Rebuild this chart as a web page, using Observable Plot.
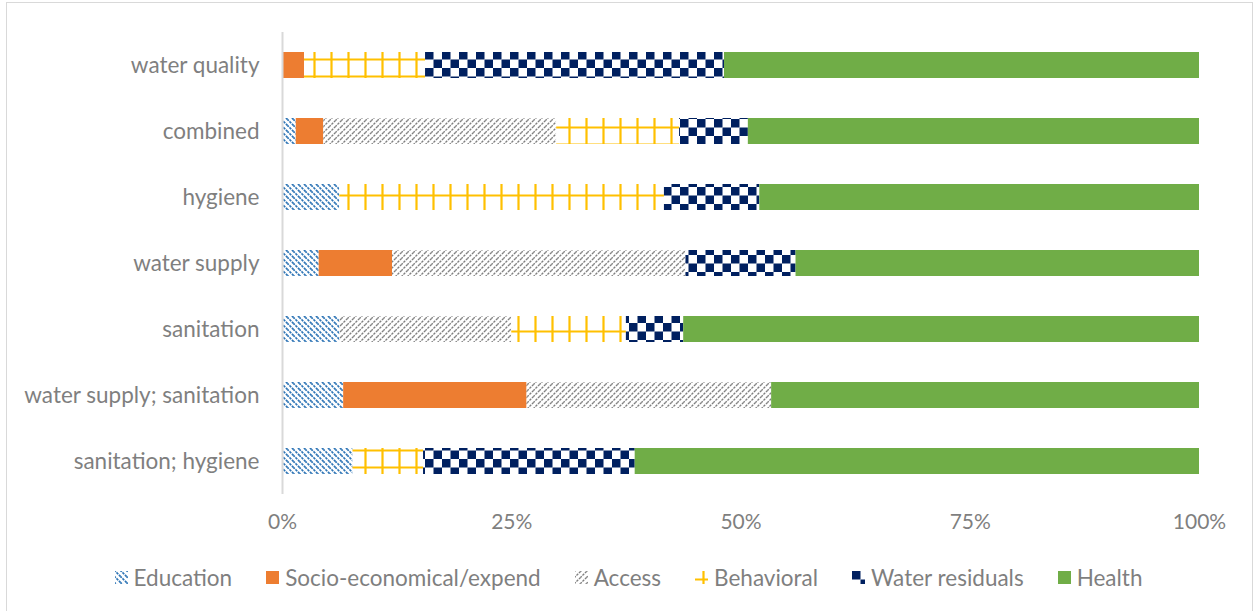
<!DOCTYPE html>
<html><head><meta charset="utf-8">
<script src="https://cdn.jsdelivr.net/npm/d3@7"></script>
<script src="https://cdn.jsdelivr.net/npm/@observablehq/plot@0.6"></script>
<style>
body{margin:0;background:#fff;font-family:Lato,sans-serif;width:1257px;height:611px;overflow:hidden;position:relative;}
#frame{position:absolute;left:6px;top:2px;width:1245px;height:640px;border:1.5px solid #d9d9d9;}
#chart{position:absolute;left:0;top:0;}
#legend{position:absolute;top:564px;left:0;width:1257px;display:flex;justify-content:center;gap:34px;font:22.5px Lato,sans-serif;color:#7f7f7f;}
.item{display:flex;align-items:center;gap:6px;}
.item svg{display:block}
</style></head>
<body>
<div id="frame"></div>
<div id="chart"></div>
<div id="legend"></div>
<script>
const categories = ["water quality","combined","hygiene","water supply","sanitation","water supply; sanitation","sanitation; hygiene"];
const seriesNames = ["Education","Socio-economical/expend","Access","Behavioral","Water residuals","Health"];
const education      = [0,    1.5,  6.25, 4,  6.25,  6.67, 7.69];
const socio          = [2.4,  3.0,  0,    8,  0,     20,   0];
const access         = [0,    25.4, 0,    32, 18.75, 26.67, 0];
const behavioral     = [13.2, 13.4, 35.4, 0,  12.5,  0,    7.69];
const waterResiduals = [32.6, 7.5,  10.4, 12, 6.25,  0,    23.08];
const health         = [51.8, 49.2, 47.95,44, 56.25, 46.66, 61.54];
const xTicks = [0,25,50,75,100];

const seriesValues = [education, socio, access, behavioral, waterResiduals, health];
const rows = [];
categories.forEach((c,i)=>seriesNames.forEach((s,j)=>{
  if (seriesValues[j][i] > 0) rows.push({category:c, series:s, value:seriesValues[j][i]});
}));
const patIds = ["pEdu","pSocio","pAccess","pBeh","pWR","pHealth"];

const svg = Plot.plot({
  width:1257, height:545,
  marginLeft:282, marginRight:58, marginTop:32, marginBottom:51,
  style:"font: 21px Lato, sans-serif; color:#7f7f7f; background:transparent; overflow:visible",
  x:{domain:[0,100], label:null},
  y:{domain:categories, paddingInner:0.6, paddingOuter:0.3, label:null},
  color:{domain:seriesNames, range:patIds.map(p=>`url(#${p})`)},
  marks:[
    Plot.barX(rows, Plot.stackX({x:"value", y:"category", fill:"series", order:seriesNames})),
    Plot.ruleX([0], {stroke:"#d9d9d9", strokeWidth:2}),
    Plot.axisX({ticks:xTicks, tickSize:0, tickPadding:20, tickFormat:d=>d+"%"}),
    Plot.axisY({tickSize:0, tickPadding:23, fontSize:22.5})
  ]
});
document.getElementById("chart").appendChild(svg);

const defs = d3.select(svg).insert("defs", ":first-child");
function pat(id,w,h){ const p=defs.append("pattern").attr("id",id).attr("patternUnits","userSpaceOnUse").attr("width",w).attr("height",h);
  p.append("rect").attr("width",w).attr("height",h).attr("fill","#fff"); return p; }
// Education: "\" dashed blue lines
let p = pat("pEdu",6,6);
p.append("path").attr("d","M-1,-1L7,7M-1,5L1,7M5,-1L7,1").attr("stroke","#2E75B6").attr("stroke-width",1.7).attr("stroke-dasharray","2.5,1");
// Socio solid
p = pat("pSocio",4,4); p.select("rect").attr("fill","#ED7D31");
// Access "/" dashed grey
p = pat("pAccess",6,6);
p.append("path").attr("d","M-1,7L7,-1M-1,1L1,-1M5,7L7,5").attr("stroke","#7f7f7f").attr("stroke-width",1.3).attr("stroke-dasharray","2.5,1");
// Behavioral grid
p = pat("pBeh",17,17);
p.append("path").attr("d","M8.5,0V17M0,8.5H17").attr("stroke","#FFC000").attr("stroke-width",2.2);
// Water residuals checkerboard
p = pat("pWR",17,17);
p.append("rect").attr("width",8.5).attr("height",8.5).attr("fill","#002060");
p.append("rect").attr("x",8.5).attr("y",8.5).attr("width",8.5).attr("height",8.5).attr("fill","#002060");
// Health solid
p = pat("pHealth",4,4); p.select("rect").attr("fill","#70AD47");

const legend = d3.select("#legend");
seriesNames.forEach((s,i)=>{
  const it = legend.append("div").attr("class","item");
  const sv = it.append("svg").attr("width",13).attr("height",13);
  sv.append("rect").attr("width",13).attr("height",13).attr("fill",`url(#${patIds[i]})`);
  it.append("span").text(s);
});
</script>
</body></html>
